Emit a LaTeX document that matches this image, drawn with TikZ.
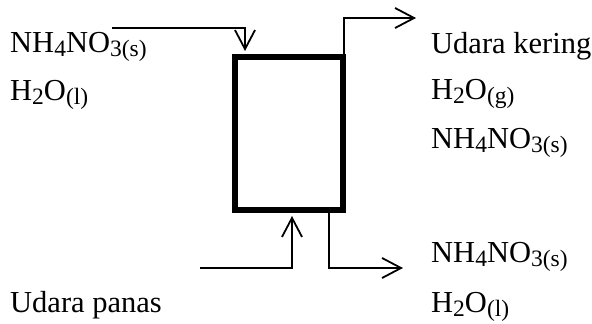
\documentclass[tikz,border=0pt]{standalone}
\usepackage{fontspec}
\setmainfont{Liberation Serif}
\usetikzlibrary{arrows.meta,positioning}

\newcommand{\dn}[1]{\raisebox{-0.15em}{\fontsize{23.5}{24}\selectfont #1}}

\begin{document}
\begin{tikzpicture}[
    x=1pt, y=-1pt,
    every node/.style={font=\fontsize{30.5}{36}\selectfont, inner sep=0pt},
    stream/.style={anchor=base west},
    unit/.style={draw, line width=6pt, minimum width=108pt, minimum height=153pt},
    flow/.style={line width=1.8pt, -{Straight Barb[length=19pt,width=20pt,line width=1.8pt]}}
]
\useasboundingbox (0,0) rectangle (592,324);

% dryer
\node[unit] (dryer) at (289,133.5) {};

% feed side
\node[stream] (feedA) at (10,52) {NH\dn{4}NO\dn{3(s)}};
\node[stream] (feedB) at (10,100) {H\dn{2}O\dn{(l)}};
\node[stream] (airin) at (10,312) {Udara panas};

% product side
\node[stream] (topA) at (431,53) {Udara kering};
\node[stream] (topB) at (431,99) {H\dn{2}O\dn{(g)}};
\node[stream] (topC) at (431,148) {NH\dn{4}NO\dn{3(s)}};
\node[stream] (botA) at (431,262) {NH\dn{4}NO\dn{3(s)}};
\node[stream] (botB) at (431,312) {H\dn{2}O\dn{(l)}};

% stream ends
\coordinate (feedin) at (112,28);
\coordinate (airstart) at (200,268);
\coordinate (vapout) at (416,18);
\coordinate (solout) at (403,268);

\draw[flow] (feedin) -| ([xshift=13pt,yshift=3pt]dryer.north west);
\draw[flow] (airstart) -| ([xshift=-54pt,yshift=-3pt]dryer.south east);
\draw[flow] ([xshift=-2pt]dryer.north east) |- (vapout);
\draw[flow] ([xshift=-17pt]dryer.south east) |- (solout);

\end{tikzpicture}
\end{document}
